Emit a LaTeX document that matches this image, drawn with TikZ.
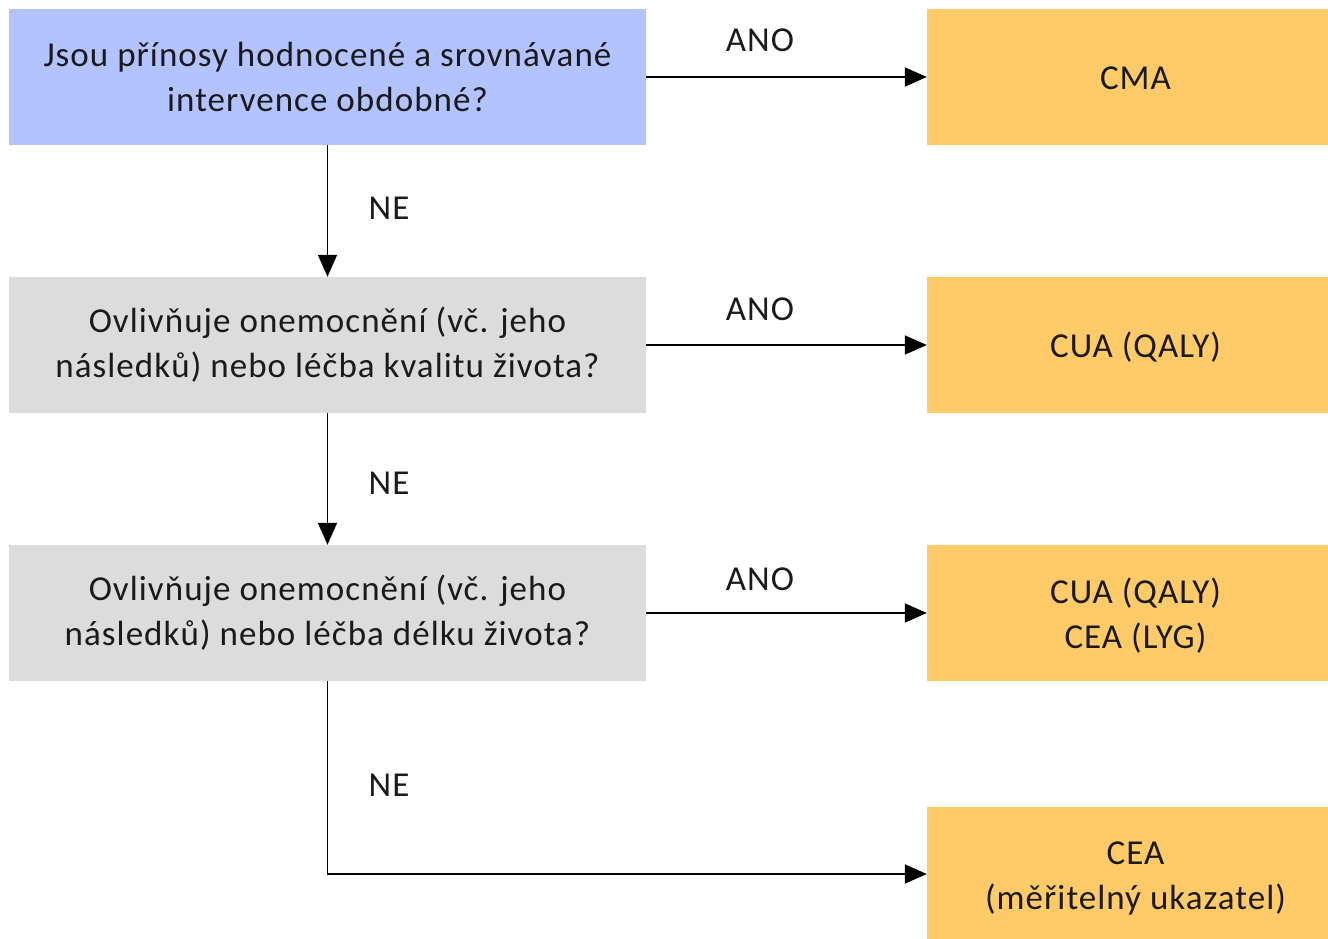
\documentclass[tikz,border=0pt]{standalone}
\usepackage{fontspec}
\setmainfont[LetterSpace=3]{Carlito}
\usetikzlibrary{arrows.meta}
\definecolor{qblue}{HTML}{B3C3FF}
\definecolor{qgrey}{HTML}{DCDCDC}
\definecolor{qorange}{HTML}{FFCB69}
\definecolor{qtext}{HTML}{1A1A1A}
\newcommand{\rtext}[1]{\kern16pt\raisebox{-3.5pt}[\height][\depth]{\begin{tabular}{@{}c@{}}#1\end{tabular}}}
\begin{document}
\begin{tikzpicture}[x=1pt,y=-1pt,
  every node/.style={text=qtext,font=\fontsize{35}{45}\selectfont,align=center,inner sep=0pt},
  box/.style={minimum width=637pt,minimum height=136pt},
  qbox/.style={box,fill=qgrey},
  rbox/.style={fill=qorange,minimum width=401pt,minimum height=136pt},
  conn/.style={draw=black,line width=1.6pt,-{Triangle[length=22pt,width=19pt]}}]
\useasboundingbox (0,0) rectangle (1328,939);
\node[box,fill=qblue] (b1) at (327.5,77) {Jsou přínosy hodnocené a srovnávané\\intervence obdobné?};
\node[qbox] (b2) at (327.5,345) {Ovlivňuje onemocnění (vč. jeho\\následků) nebo léčba kvalitu života?};
\node[qbox] (b3) at (327.5,613) {Ovlivňuje onemocnění (vč. jeho\\následků) nebo léčba délku života?};
\node[rbox] (r1) at (1127.5,77) {\rtext{CMA}};
\node[rbox] (r2) at (1127.5,345) {\rtext{CUA (QALY)}};
\node[rbox] (r3) at (1127.5,613) {\rtext{CUA (QALY)\\CEA (LYG)}};
\node[rbox,minimum height=134pt] (r4) at (1127.5,874) {\rtext{CEA\\(měřitelný ukazatel)}};
\draw[conn] (b1) -- (r1);
\draw[conn] (b2) -- (r2);
\draw[conn] (b3) -- (r3);
\draw[conn] (b1) -- (b2);
\draw[conn] (b2) -- (b3);
\draw[conn] (b3.south) |- (r4.west);
\node (a1) at (760,40) {ANO};
\node (a2) at (760,309) {ANO};
\node (a3) at (760,579) {ANO};
\node (n1) at (389,208) {NE};
\node (n2) at (389,483) {NE};
\node (n3) at (389,785) {NE};
\end{tikzpicture}
\end{document}
